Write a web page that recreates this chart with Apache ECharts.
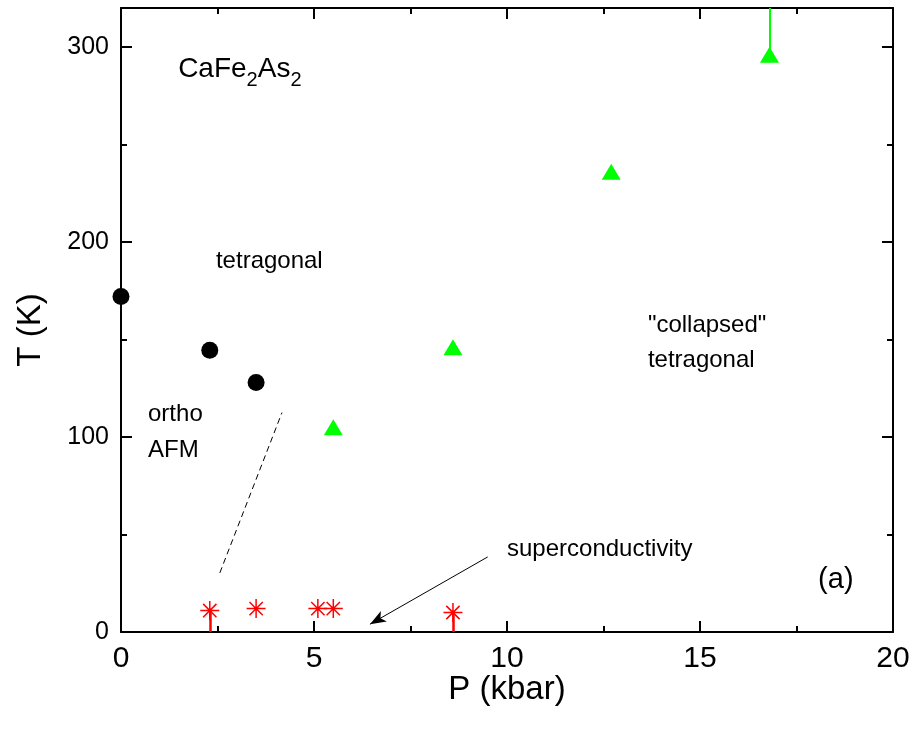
<!DOCTYPE html>
<html>
<head>
<meta charset="utf-8">
<script src="https://cdn.jsdelivr.net/npm/echarts@6/dist/echarts.min.js"></script>
<style>
  html, body { margin: 0; padding: 0; background: #fff; }
  #chart { width: 915px; height: 734px; }
</style>
</head>
<body>
<div id="chart"></div>
<script>
// orthorhombic AFM transition (black circles)
var afmP = [0, 2.3, 3.5]
var afmT = [172, 144.5, 128]
// collapsed tetragonal transition (green triangles)
var ctP = [5.5, 8.6, 12.7, 16.8]
var ctT = [105, 146, 236, 296]
// superconducting Tc (red stars)
var scP = [2.3, 3.5, 5.1, 5.5, 8.6]
var scT = [11, 12, 12, 12, 10]
// tick labels
var xTicks = [0, 5, 10, 15, 20]
var yTicks = [0, 100, 200, 300]
var yMinor = [50, 150, 250]

// text annotations [P, T, text, size]
var notes = [
  [2.46, 190, 'tetragonal', 24],
  [13.65, 157.5, '"collapsed"', 24],
  [13.65, 139.5, 'tetragonal', 24],
  [0.7, 111.5, 'ortho', 24],
  [0.7, 93, 'AFM', 24],
  [10.0, 42.6, 'superconductivity', 24],
  [18.06, 26.7, '(a)', 29]
]

var font = 'Liberation Sans, Arial, sans-serif'
var star = 'path://M0,-10L0,10M-10,0L10,0M-7,-7L7,7M-7,7L7,-7'

var myChart = echarts.init(document.getElementById('chart'))

function xAx(pos, showLabel) {
  return {
    type: 'value', position: pos, min: 0, max: 20, interval: 5,
    splitLine: { show: false },
    axisLine: { show: true, onZero: false, lineStyle: { color: '#000', width: 2 } },
    axisTick: { show: true, inside: true, length: 11, lineStyle: { color: '#000', width: 2 } },
    minorTick: { show: true, splitNumber: 2, length: 6, lineStyle: { color: '#000', width: 2 } },
    axisLabel: { show: showLabel, color: '#000', fontFamily: font, fontSize: 30, margin: 12 },
    name: showLabel ? 'P (kbar)' : '',
    nameLocation: 'middle', nameGap: 41, nameMoveOverlap: false,
    nameTextStyle: { color: '#000', fontFamily: font, fontSize: 33 }
  }
}
function yAx(pos, showLabel, minor) {
  return {
    type: 'value', position: pos, min: 0, max: 320,
    splitLine: { show: false },
    axisLine: { show: !minor, onZero: false, lineStyle: { color: '#000', width: 2 } },
    axisTick: { show: true, inside: true, customValues: minor ? yMinor : yTicks,
      length: minor ? 6 : 11, lineStyle: { color: '#000', width: 2 } },
    axisLabel: { show: showLabel, customValues: yTicks, color: '#000', fontFamily: font, fontSize: 25, margin: 12 },
    name: showLabel ? 'T (K)' : '',
    nameLocation: 'middle', nameGap: 74, nameMoveOverlap: false,
    nameTextStyle: { color: '#000', fontFamily: font, fontSize: 33, padding: [0, 20, 0, 0] }
  }
}

var afmData = afmP.map(function (p, i) { return [p, afmT[i]] })
var ctData = ctP.map(function (p, i) { return [p, ctT[i]] })
var scData = scP.map(function (p, i) { return [p, scT[i]] })

myChart.setOption({
  backgroundColor: '#fff',
  animation: false,
  grid: { left: 121, right: 22, top: 8, bottom: 102 },
  xAxis: [xAx('bottom', true), xAx('top', false)],
  yAxis: [yAx('left', true, false), yAx('left', false, true), yAx('right', false, false), yAx('right', false, true)],
  series: [
    {
      name: 'dashed',
      type: 'line',
      data: [[2.56, 30.3], [4.17, 112.5]],
      symbol: 'none',
      lineStyle: { color: '#000', width: 1, type: [6, 4] }
    },
    {
      name: 'AFM',
      type: 'scatter',
      data: afmData,
      symbol: 'circle',
      symbolSize: 17,
      itemStyle: { color: '#000', opacity: 1 }
    },
    {
      name: 'cT',
      type: 'scatter',
      data: ctData,
      symbol: 'triangle',
      symbolSize: [19, 16],
      itemStyle: { color: '#00ff00', opacity: 1 },
      markLine: {
        silent: true,
        symbol: 'none',
        label: { show: false },
        lineStyle: { color: '#00ff00', width: 2, type: 'solid', opacity: 1 },
        data: [[{ coord: [ctP[3], ctT[3]] }, { coord: [ctP[3], 320] }]]
      }
    },
    {
      name: 'SC',
      type: 'scatter',
      data: scData,
      symbol: star,
      symbolSize: 19,
      itemStyle: { color: 'none', borderColor: '#ff0000', borderWidth: 1.5, opacity: 1 },
      markLine: {
        silent: true,
        symbol: 'none',
        label: { show: false },
        lineStyle: { color: '#ff0000', width: 2.5, type: 'solid', opacity: 1 },
        data: [
          [{ coord: [scP[0], 0] }, { coord: [scP[0], scT[0]] }],
          [{ coord: [scP[4], 0] }, { coord: [scP[4], scT[4]] }]
        ]
      }
    },
    {
      name: 'arrow',
      type: 'scatter',
      data: [],
      markLine: {
        silent: true,
        symbol: ['none', 'arrow'],
        symbolSize: [9, 16],
        label: { show: false },
        lineStyle: { color: '#000', width: 1, type: 'solid', opacity: 1 },
        data: [[{ coord: [9.5, 38.5] }, { coord: [6.45, 4] }]]
      }
    },
    {
      name: 'notes',
      type: 'scatter',
      symbolSize: 0,
      itemStyle: { opacity: 1 },
      data: notes.map(function (n) {
        return {
          value: [n[0], n[1]],
          label: {
            show: true, position: [0, 0], align: 'left', verticalAlign: 'middle',
            formatter: n[2], color: '#000', fontFamily: font, fontSize: n[3]
          }
        }
      })
    },
    {
      name: 'title',
      type: 'scatter',
      symbolSize: 0,
      itemStyle: { opacity: 1 },
      data: [{
        value: [1.48, 288.7],
        label: {
          show: true, position: [0, 0], align: 'left', verticalAlign: 'middle',
          formatter: '{a|CaFe}{s|2}{a|As}{s|2}',
          rich: {
            a: { color: '#000', fontFamily: font, fontSize: 28 },
            s: { color: '#000', fontFamily: font, fontSize: 20, padding: [22, 0, 0, 0] }
          }
        }
      }]
    }
  ]
})
</script>
</body>
</html>
